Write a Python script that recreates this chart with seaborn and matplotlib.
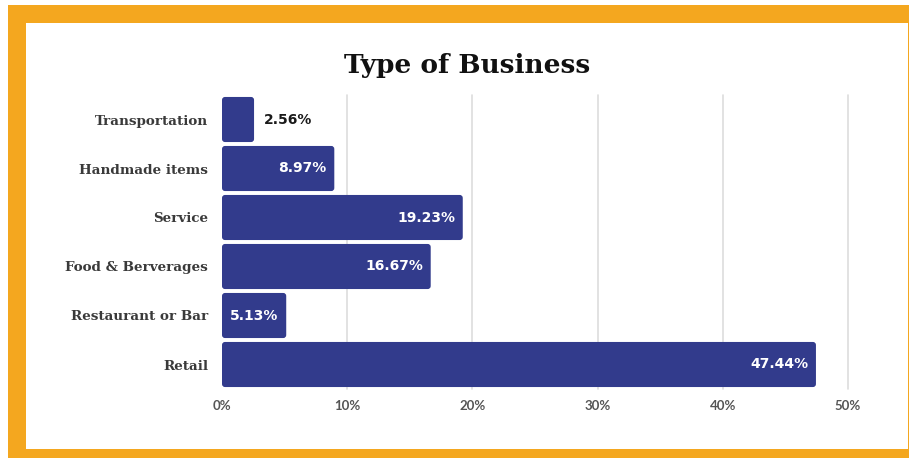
import matplotlib
matplotlib.use("Agg")
import matplotlib.pyplot as plt
import seaborn as sns
import pandas as pd
from matplotlib.patches import Rectangle, FancyBboxPatch

categories = ["Transportation", "Handmade items", "Service", "Food & Berverages",
              "Restaurant or Bar", "Retail"]
values = [2.56, 8.97, 19.23, 16.67, 5.13, 47.44]
xticks = [0, 10, 20, 30, 40, 50]
xtick_labels = ["0%", "10%", "20%", "30%", "40%", "50%"]
title = "Type of Business"

df = pd.DataFrame({"category": categories, "value": values})

sns.set_theme(style="white")
W, H = 909, 458
fig = plt.figure(figsize=(W / 100, H / 100), dpi=100)

orange = "#F4A71F"
fig.patches.append(Rectangle((8 / W, 0), 1 - 8 / W, 1 - 5 / H, transform=fig.transFigure,
                             facecolor=orange, edgecolor="none", zorder=-10))
fig.patches.append(Rectangle((26 / W, 1 - 449 / H), (908 - 26) / W, (449 - 23) / H,
                             transform=fig.transFigure, facecolor="white",
                             edgecolor="none", zorder=-9))

ax = fig.add_axes([222 / W, 1 - 389 / H, 626 / W, 294 / H])
ax.patch.set_alpha(0)
bar_color = "#323B8C"
sns.barplot(data=df, x="value", y="category", orient="h", color=bar_color,
            width=0.92, saturation=1, ax=ax, zorder=3)
ax.set_xlim(0, 50)
ax.set_ylim(5.5, -0.5)

# replace bars with rounded versions using the geometry seaborn computed
px_x = 626 / 50.0
px_y = 294 / 6.0
r_px = 3.0
rs = r_px / px_x
aspect = (r_px / px_y) / rs
for p in list(ax.patches):
    x0, y0 = p.get_x(), p.get_y()
    w, h = p.get_width(), p.get_height()
    fb = FancyBboxPatch((x0, y0), w, h,
                        boxstyle=f"round,pad=0,rounding_size={rs}",
                        mutation_aspect=aspect, facecolor=bar_color,
                        edgecolor="none", zorder=3)
    p.remove()
    ax.add_patch(fb)

ax.set_xticks(xticks)
ax.set_xticklabels(xtick_labels, fontsize=9.5, color="#555555", fontweight="bold",
                   family="Lato")
ax.set_yticks(range(len(categories)))
ax.set_yticklabels(categories, fontsize=9.7, color="#3a3a3a", fontweight="bold",
                   family="DejaVu Serif")
ax.tick_params(axis="x", length=0, pad=8)
ax.tick_params(axis="y", length=0, pad=10)
for x in xticks[1:]:
    ax.axvline(x, color="#dddddd", lw=1.2, zorder=1, clip_on=False)
for s in ax.spines.values():
    s.set_visible(False)
ax.set_xlabel("")
ax.set_ylabel("")

for i, v in enumerate(values):
    label = f"{v:.2f}%"
    if v < 4:
        ax.text(v + 0.8, i, label, va="center", ha="left", color="#1a1a1a",
                fontsize=10, fontweight="bold", family="DejaVu Sans")
    else:
        ax.text(v - 0.6, i, label, va="center", ha="right", color="white",
                fontsize=10, fontweight="bold", family="DejaVu Sans")

fig.text(467 / W, 1 - 65 / H, title, ha="center", va="center", fontsize=19,
         fontweight="bold", family="DejaVu Serif", color="#111111")

fig.savefig("out.png", dpi=100)
